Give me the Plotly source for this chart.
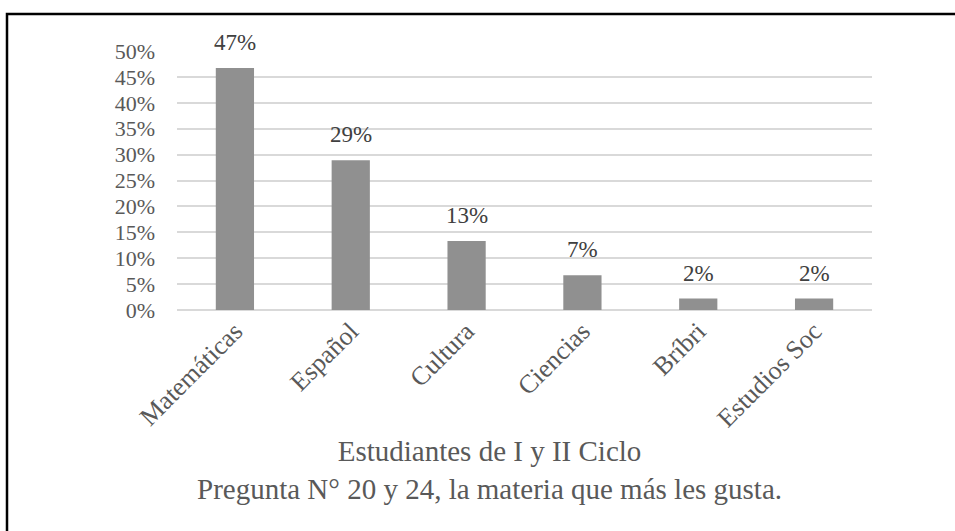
import plotly.graph_objects as go

categories = ["Matemáticas", "Español", "Cultura", "Ciencias", "Bríbri", "Estudios Soc"]
values = [0.467, 0.289, 0.133, 0.067, 0.022, 0.022]
y_ticks = [0, 0.05, 0.10, 0.15, 0.20, 0.25, 0.30, 0.35, 0.40, 0.45, 0.50]
title_lines = ["Estudiantes de I y II Ciclo", "Pregunta N° 20 y 24, la materia que más les gusta."]

W, H = 955, 531
L, R, T, B = 177, 83, 51, 221
pw, ph = W - L - R, H - T - B

def px_x(px):
    return (px - L) / pw

def px_y(py):
    return (H - B - py) / ph

FONT = "Liberation Serif, Times New Roman, serif"

fig = go.Figure(go.Bar(
    x=categories, y=values,
    marker=dict(color="#909090", line=dict(width=0)),
    hoverinfo="skip",
))

label_annotations = [
    dict(x=c, y=v, xref="x", yref="y", text=f"{v:.0%}", showarrow=False,
         yanchor="bottom", yshift=11,
         font=dict(family=FONT, size=23, color="#404040"))
    for c, v in zip(categories, values)
]

fig.update_layout(
    width=W, height=H,
    margin=dict(l=L, r=R, t=T, b=B, autoexpand=False),
    paper_bgcolor="white", plot_bgcolor="white",
    bargap=0.67,
    showlegend=False,
    font=dict(family=FONT, color="#595959"),
    xaxis=dict(
        tickangle=-45, tickfont=dict(family=FONT, size=26, color="#595959"),
        showgrid=False, showline=False, ticks="", automargin=False,
    ),
    yaxis=dict(
        range=[0, 0.5], tickvals=y_ticks, tickformat=".0%",
        tickfont=dict(family=FONT, size=22, color="#595959"),
        showgrid=True, gridcolor="#d9d9d9", gridwidth=1.5,
        zeroline=True, zerolinecolor="#d9d9d9", zerolinewidth=1.5,
        showline=False, ticks="", ticklabelstandoff=21, automargin=False,
    ),
    annotations=label_annotations + [dict(
        text="<br>".join(title_lines), xref="paper", yref="paper",
        x=px_x(489), y=px_y(470), xanchor="center", yanchor="middle",
        showarrow=False, align="center",
        font=dict(family=FONT, size=29, color="#595959"),
    )],
    shapes=[dict(
        type="rect", xref="paper", yref="paper",
        x0=px_x(7), x1=px_x(965), y0=px_y(545), y1=px_y(14),
        line=dict(color="black", width=2.5), fillcolor="rgba(0,0,0,0)", layer="above",
    )],
)

fig.write_html("out.html", config={"displayModeBar": False},
               post_script="document.body.style.margin='0';document.body.style.overflow='hidden';")
